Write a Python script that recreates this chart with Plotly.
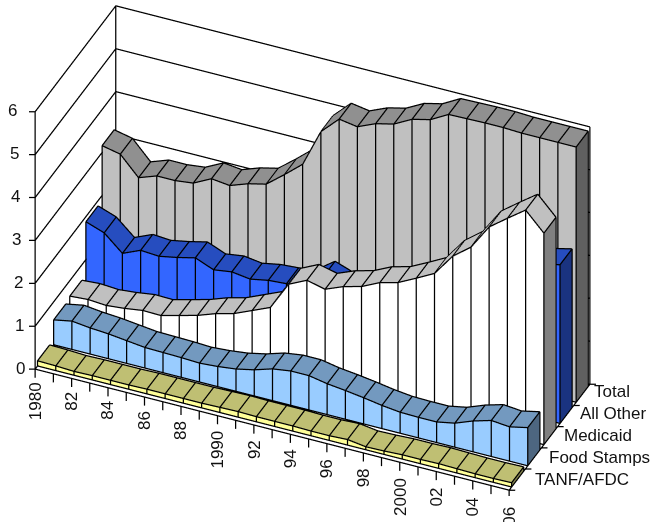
import numpy as np
import plotly.graph_objects as go

years = list(range(1980, 2007))
year_labels = ["1980", "82", "84", "86", "88", "1990", "92", "94", "96", "98", "2000", "02", "04", "06"]
series_names = ["TANF/AFDC", "Food Stamps", "Medicaid", "All Other", "Total"]

tanf = [.12, .11, .09, .10, .10, .10, .11, .11, .11, .11, .12, .13, .12, .12, .12, .11, .11, .13, .07, .08, .10, .10, .11, .10, .09, .09, .10]
food_stamps = [.58, .66, .61, .58, .53, .48, .47, .46, .44, .47, .52, .61, .74, .80, .80, .72, .67, .61, .54, .49, .48, .48, .56, .72, .84, .80, .89]
medicaid = [.64, .67, .64, .68, .74, .73, .84, .95, 1.10, 1.21, 1.39, 1.57, 2.22, 2.42, 2.32, 2.49, 2.60, 2.80, 2.91, 3.12, 3.34, 3.85, 4.17, 4.75, 5.06, 5.36, 4.93]
all_other = [1.88, 1.73, 1.36, 1.54, 1.51, 1.59, 1.69, 1.52, 1.58, 1.52, 1.60, 1.63, 1.70, 2.00, 1.85, 1.85, 1.95, 2.10, 2.20, 2.40, 2.60, 2.90, 3.20, 3.40, 3.50, 3.60, 3.70]
total = [3.16, 3.07, 2.63, 2.78, 2.78, 2.83, 3.04, 2.99, 3.14, 3.24, 3.57, 3.92, 4.79, 5.19, 5.12, 5.30, 5.40, 5.62, 5.72, 5.95, 5.96, 5.97, 5.97, 5.95, 5.95, 5.95, 5.95]
series_values = [tanf, food_stamps, medicaid, all_other, total]

front_colors = ["#FFFF99", "#99CCFF", "#FFFFFF", "#3366FF", "#C0C0C0"]
top_colors = ["#BFBF73", "#7399BF", "#C0C0C0", "#264DBF", "#909090"]
end_colors = ["#80804D", "#4D6680", "#808080", "#1A3380", "#606060"]

z_ticks = [0, 1, 2, 3, 4, 5, 6]
TEXT_FONT = dict(family="Liberation Sans, Arial", size=17, color="#111111")
NAME_SHIFTS = [16, 14, 12, 12, 10]

ROW_START = 0.03
ROW_STEP = 0.2
ROW_WIDTH = 0.15
x_range = [-1, 27]
y_range = [-0.1, 1.1]
z_range = [-0.5, 6.5]
ZOOM = 2.25
aspect = dict(x=1.0 * ZOOM, y=0.43 * ZOOM, z=0.66 * ZOOM)
eye_dir = np.array([0.329, -0.746, 0.579])
EYE_DIST = 2.0

# Small nudge towards the viewer so edges sit on top of the faces they bound.
lift = 0.008 * eye_dir / np.array([
    aspect["x"] / (x_range[1] - x_range[0]),
    aspect["y"] / (y_range[1] - y_range[0]),
    aspect["z"] / (z_range[1] - z_range[0]),
])


class Segments:
    def __init__(self):
        self.x, self.y, self.z = [], [], []

    def add(self, *points):
        for p in points:
            self.x.append(p[0] + lift[0])
            self.y.append(p[1] + lift[1])
            self.z.append(p[2] + lift[2])
        self.x.append(None)
        self.y.append(None)
        self.z.append(None)


fig = go.Figure()
edges = Segments()

for row, values in enumerate(series_values):
    y0 = ROW_START + row * ROW_STEP
    y1 = y0 + ROW_WIDTH
    vx, vy, vz, ti, tj, tk, colors = [], [], [], [], [], [], []

    def quad(a, b, c, d, color):
        base = len(vx)
        for p in (a, b, c, d):
            vx.append(p[0])
            vy.append(p[1])
            vz.append(p[2])
        ti.extend([base, base])
        tj.extend([base + 1, base + 2])
        tk.extend([base + 2, base + 3])
        colors.extend([color, color])

    last = len(values) - 1
    for n in range(last):
        a, b = values[n], values[n + 1]
        quad((n, y0, 0), (n + 1, y0, 0), (n + 1, y0, b), (n, y0, a), front_colors[row])
        quad((n, y0, a), (n + 1, y0, b), (n + 1, y1, b), (n, y1, a), top_colors[row])
        edges.add((n, y0, 0), (n + 1, y0, 0))
        edges.add((n, y0, a), (n + 1, y0, b))
        edges.add((n, y1, a), (n + 1, y1, b))
    for n, v in enumerate(values):
        edges.add((n, y0, 0), (n, y0, v))
        edges.add((n, y0, v), (n, y1, v))
    v = values[last]
    quad((last, y0, 0), (last, y1, 0), (last, y1, v), (last, y0, v), end_colors[row])
    edges.add((last, y0, 0), (last, y1, 0), (last, y1, v))

    fig.add_trace(go.Mesh3d(
        x=vx, y=vy, z=vz, i=ti, j=tj, k=tk, facecolor=colors, flatshading=True,
        lighting=dict(ambient=1, diffuse=0, specular=0, roughness=1, fresnel=0),
        hoverinfo="skip", name=series_names[row], showlegend=False,
    ))

# Walls, floor edges and axis ticks.
last_x = len(years) - 1
for z in z_ticks:
    edges.add((0, 0, z), (0, 1, z), (last_x, 1, z))
    edges.add((0, 0, z), (-0.28, -0.012, z))
edges.add((0, 0, 0), (0, 0, 6))
edges.add((0, 1, 0), (0, 1, 6))
edges.add((last_x, 1, 0), (last_x, 1, 6))
edges.add((0, 0, 0), (last_x, 0, 0), (last_x, 1, 0))
for n in range(len(years)):
    edges.add((n, 0, 0), (n, 0, -0.2))
for row in range(len(series_names) + 1):
    d = row * ROW_STEP
    edges.add((last_x, d, 0), (last_x + 0.28, d + 0.012, 0))

fig.add_trace(go.Scatter3d(
    x=edges.x, y=edges.y, z=edges.z, mode="lines",
    line=dict(color="#000000", width=2.5), hoverinfo="skip", showlegend=False,
))

annotations = []
for z in z_ticks:
    annotations.append(dict(x=0, y=0, z=z, text=str(z), showarrow=False, xanchor="right",
                            xshift=-8 - 1.3 * z, yshift=1, font=TEXT_FONT))
for n, label in enumerate(year_labels):
    annotations.append(dict(x=2 * n, y=0, z=0, text=label, showarrow=False, textangle=-90,
                            xanchor="center", yanchor="top", yshift=-11 - 0.3 * n, font=TEXT_FONT))
for row, name in enumerate(series_names):
    annotations.append(dict(x=last_x, y=0.1 + row * ROW_STEP, z=0, text=name, showarrow=False,
                            xanchor="left", xshift=NAME_SHIFTS[row], yshift=0.7 * row, font=TEXT_FONT))

hidden = dict(visible=False, showgrid=False, zeroline=False, showspikes=False)
fig.update_layout(
    width=651, height=522, margin=dict(l=0, r=0, t=0, b=0), paper_bgcolor="white",
    scene=dict(
        domain=dict(x=[0, 0.96], y=[0.05, 1]),
        xaxis=dict(range=x_range, **hidden),
        yaxis=dict(range=y_range, **hidden),
        zaxis=dict(range=z_range, **hidden),
        aspectmode="manual", aspectratio=aspect,
        camera=dict(
            projection=dict(type="orthographic"),
            eye=dict(x=eye_dir[0] * EYE_DIST, y=eye_dir[1] * EYE_DIST, z=eye_dir[2] * EYE_DIST),
            center=dict(x=0, y=0, z=0), up=dict(x=0, y=0, z=1),
        ),
        annotations=annotations,
    ),
)
fig.write_html("out.html")
